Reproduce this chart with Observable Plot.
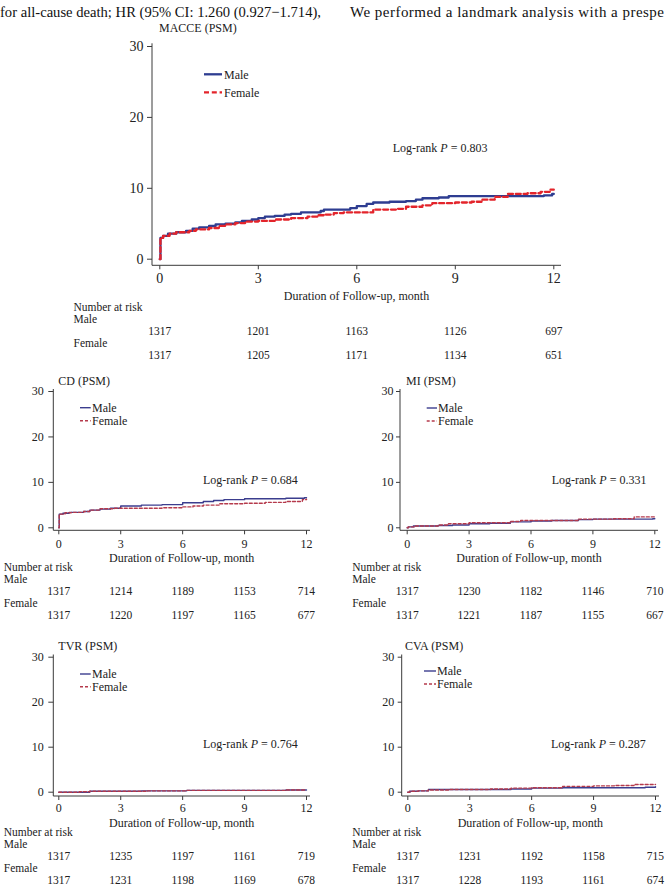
<!DOCTYPE html>
<html>
<head>
<meta charset="utf-8">
<script src="https://cdn.jsdelivr.net/npm/d3@7"></script>
<script src="https://cdn.jsdelivr.net/npm/@observablehq/plot@0.6"></script>
<style>
  html, body { margin: 0; padding: 0; background: #fff; }
  #page { position: relative; width: 667px; height: 891px; overflow: hidden; background: #fff;
          font-family: "Liberation Serif", "Times New Roman", serif; color: #222; }
  #page svg { position: absolute; }
</style>
</head>
<body>
<div id="page"></div>
<script>
// ---------------- DATA ----------------
const ticksX = [0, 3, 6, 9, 12];
const ticksY = [0, 10, 20, 30];
const groups = ["Male", "Female"];
const riskHeader = "Number at risk";
const xAxisLabel = "Duration of Follow-up, month";
const riskRowKeys = ["head", "Male", "MaleN", "Female", "FemaleN"];

const headerLeft = "for all-cause death; HR (95% CI: 1.260 (0.927\u22121.714),";
const headerRight = "We performed a landmark analysis with a prespe";

// cumulative incidence (%) step points [month, %]
const macceMale = [[0,0],[0.02,3.0],[0.1,3.3],[0.25,3.6],[0.5,3.8],[0.8,4.0],[1.0,4.3],[1.2,4.5],[1.5,4.7],[1.7,4.9],[2.0,5.0],[2.3,5.2],[2.5,5.4],[2.8,5.6],[3.0,5.8],[3.2,6.0],[3.5,6.1],[3.8,6.3],[4.0,6.4],[4.3,6.6],[4.9,6.8],[5.0,7.0],[5.8,7.2],[6.0,7.5],[6.3,7.8],[6.5,8.0],[7.0,8.1],[7.5,8.2],[7.8,8.4],[8.0,8.6],[8.5,8.7],[8.8,8.9],[11.7,9.0],[11.95,9.2],[12.0,9.2]];
const macceFemale = [[0,0],[0.02,3.0],[0.1,3.3],[0.3,3.6],[0.5,3.8],[0.9,4.0],[1.1,4.2],[1.5,4.4],[1.8,4.7],[2.0,4.9],[2.3,5.1],[2.6,5.3],[3.0,5.4],[3.5,5.6],[4.0,5.8],[4.5,6.0],[4.8,6.2],[5.0,6.3],[5.3,6.5],[5.6,6.6],[6.5,7.0],[7.2,7.1],[7.5,7.4],[8.0,7.6],[8.3,7.9],[9.0,8.0],[9.5,8.1],[9.8,8.4],[10.2,8.8],[10.6,9.2],[11.2,9.3],[11.6,9.5],[11.9,9.8],[12.0,9.8]];
const macceRiskMale = [1317, 1201, 1163, 1126, 697];
const macceRiskFemale = [1317, 1205, 1171, 1134, 651];
const macceP = "0.803";

const cdMale = [[0,0],[0.02,3.0],[0.2,3.2],[0.5,3.4],[1.2,3.6],[1.5,3.9],[2.0,4.1],[2.5,4.3],[3.0,4.8],[4.0,5.0],[5.0,5.1],[6.0,5.5],[7.0,5.8],[7.5,6.0],[8.0,6.2],[9.0,6.4],[11.0,6.5],[11.9,6.6],[12.0,6.6]];
const cdFemale = [[0,0],[0.02,3.0],[0.3,3.3],[0.6,3.4],[1.2,3.6],[1.5,3.9],[2.0,4.2],[2.7,4.3],[5.0,4.4],[6.0,4.6],[6.5,4.8],[7.0,5.0],[7.8,5.3],[9.0,5.4],[10.0,5.6],[11.0,5.8],[11.8,6.2],[12.0,6.3]];
const cdRiskMale = [1317, 1214, 1189, 1153, 714];
const cdRiskFemale = [1317, 1220, 1197, 1165, 677];
const cdP = "0.684";

const miMale = [[0,0],[0.05,0.2],[0.3,0.4],[1.5,0.5],[2.2,0.6],[3.0,0.9],[4.0,1.0],[5.0,1.3],[6.0,1.5],[7.0,1.6],[8.3,1.8],[9.0,1.9],[11.9,2.0],[12.0,2.0]];
const miFemale = [[0,0],[0.05,0.2],[0.4,0.4],[1.5,0.6],[2.0,0.9],[3.0,1.1],[5.0,1.4],[5.5,1.6],[8.3,1.9],[10.0,2.0],[11.0,2.4],[12.0,2.5]];
const miRiskMale = [1317, 1230, 1182, 1146, 710];
const miRiskFemale = [1317, 1221, 1187, 1155, 667];
const miP = "0.331";

const tvrMale = [[0,0],[1.5,0.2],[4.0,0.3],[6.2,0.4],[11.0,0.5],[12.0,0.5]];
const tvrFemale = [[0,0],[1.0,0.1],[1.5,0.2],[4.3,0.3],[6.2,0.4],[11.0,0.5],[12.0,0.5]];
const tvrRiskMale = [1317, 1235, 1197, 1161, 719];
const tvrRiskFemale = [1317, 1231, 1198, 1169, 678];
const tvrP = "0.764";

const cvaMale = [[0,0],[0.1,0.2],[0.5,0.3],[1.0,0.6],[5.0,0.7],[6.0,0.9],[7.5,1.0],[11.5,1.1],[12.0,1.2]];
const cvaFemale = [[0,0],[0.1,0.2],[0.5,0.3],[1.0,0.5],[2.0,0.6],[4.0,0.7],[5.0,0.9],[6.0,1.0],[7.5,1.3],[9.0,1.4],[10.0,1.5],[11.0,1.7],[12.0,1.7]];
const cvaRiskMale = [1317, 1231, 1192, 1158, 715];
const cvaRiskFemale = [1317, 1228, 1193, 1161, 674];
const cvaP = "0.287";

// ---------------- STYLE / LAYOUT ----------------
const FONT = '"Liberation Serif", "Times New Roman", serif';
const TEXT = "#222";
const AXIS = "#3a3a3a";
const RISK_FONT = "11.5px";
const styleBig = { male: "#2e3d91", female: "#e3242b", width: 2.3, dash: "5,2.8" };
const styleSmall = { male: "#3b3d8e", female: "#b53a4c", width: 1.4, dash: "3,2" };

const layoutMacce = { svgL: 60, svgR: 600, svgT: 10, svgB: 305, axisL: 152, axisR: 561, x0: 159.3, x12: 553.3,
  y0: 258.7, y30: 46, axisB: 265.3, axisT: 43.3, xTickSize: 4, xTickPad: 3, yTickSize: 5, yTickPad: 4, tickFont: 14,
  xLabelDy: 30.7, titleDx: 7, titleDy: -16, leg: [52, 70, 72, 31, 49], lr: [240.7, 104],
  riskTop: 306.7, riskBottom: 355, riskLabelX: 73 };
const layoutCD = { svgL: 0, svgR: 330, svgT: 365, svgB: 565, axisL: 53.3, axisR: 310, x0: 58.3, x12: 306,
  y0: 527.3, y30: 391, axisB: 530.3, axisT: 389, xTickSize: 4, xTickPad: 5, yTickSize: 5, yTickPad: 5, tickFont: 12,
  xLabelDy: 27, titleDx: 5, titleDy: -8, leg: [26.7, 37.4, 38.7, 18.7, 31.7], lr: [149.7, 91],
  riskTop: 567.3, riskBottom: 616, riskLabelX: 3.3 };
const layoutMI = { svgL: 345, svgR: 667, svgT: 365, svgB: 565, axisL: 400, axisR: 658, x0: 406.7, x12: 654.3,
  y0: 527.3, y30: 391, axisB: 530.3, axisT: 389, xTickSize: 4, xTickPad: 5, yTickSize: 4, yTickPad: 3, tickFont: 12,
  xLabelDy: 27, titleDx: 6, titleDy: -8, leg: [26.7, 37, 38, 19, 32], lr: [151.7, 91],
  riskTop: 567.3, riskBottom: 616, riskLabelX: 351.7 };
const layoutTVR = { svgL: 0, svgR: 330, svgT: 630, svgB: 830, axisL: 53.3, axisR: 310, x0: 58.3, x12: 306,
  y0: 791.7, y30: 656.7, axisB: 796, axisT: 654.5, xTickSize: 4, xTickPad: 3, yTickSize: 5, yTickPad: 5, tickFont: 12,
  xLabelDy: 26.3, titleDx: 5, titleDy: -8.8, leg: [26.7, 37.4, 38.7, 19.5, 32.2], lr: [149.7, 89.5],
  riskTop: 832.3, riskBottom: 881, riskLabelX: 3.3 };
const layoutCVA = { svgL: 345, svgR: 667, svgT: 630, svgB: 830, axisL: 401.7, axisR: 659, x0: 407.3, x12: 655,
  y0: 791.7, y30: 656.7, axisB: 796, axisT: 654.5, xTickSize: 4, xTickPad: 3, yTickSize: 4, yTickPad: 4, tickFont: 12,
  xLabelDy: 26.3, titleDx: 3.3, titleDy: -8.8, leg: [22.3, 34.3, 35.3, 16.5, 29.5], lr: [149.3, 89.5],
  riskTop: 832.3, riskBottom: 881, riskLabelX: 351.7 };

const panels = [
  { title: "MACCE (PSM)", male: macceMale, female: macceFemale, riskMale: macceRiskMale, riskFemale: macceRiskFemale, p: macceP, L: layoutMacce, st: styleBig },
  { title: "CD (PSM)", male: cdMale, female: cdFemale, riskMale: cdRiskMale, riskFemale: cdRiskFemale, p: cdP, L: layoutCD, st: styleSmall },
  { title: "MI (PSM)", male: miMale, female: miFemale, riskMale: miRiskMale, riskFemale: miRiskFemale, p: miP, L: layoutMI, st: styleSmall },
  { title: "TVR (PSM)", male: tvrMale, female: tvrFemale, riskMale: tvrRiskMale, riskFemale: tvrRiskFemale, p: tvrP, L: layoutTVR, st: styleSmall },
  { title: "CVA (PSM)", male: cvaMale, female: cvaFemale, riskMale: cvaRiskMale, riskFemale: cvaRiskFemale, p: cvaP, L: layoutCVA, st: styleSmall }
];

// ---------------- RENDER ----------------
const page = document.getElementById("page");

function geom(L) {
  const ppx = (L.x12 - L.x0) / 12;
  const ppy = (L.y0 - L.y30) / 30;
  return {
    xDomain: [(L.axisL - L.x0) / ppx, 12 + (L.axisR - L.x12) / ppx],
    yDomain: [-(L.axisB - L.y0) / ppy, 30 + (L.y30 - L.axisT) / ppy],
    width: L.svgR - L.svgL,
    marginLeft: L.axisL - L.svgL,
    marginRight: L.svgR - L.axisR
  };
}

function decorations(pn) {
  const L = pn.L, st = pn.st;
  return (index, scales, values, dims) => {
    const fl = dims.marginLeft, fr = dims.width - dims.marginRight;
    const ft = dims.marginTop, fb = dims.height - dims.marginBottom;
    const g = d3.create("svg:g").attr("font-family", FONT).attr("fill", TEXT)
      .attr("font-size", 12).attr("text-anchor", "start");
    g.append("line").attr("x1", fl).attr("x2", fl).attr("y1", ft).attr("y2", fb).attr("stroke", AXIS);
    g.append("line").attr("x1", fl).attr("x2", fr).attr("y1", fb).attr("y2", fb).attr("stroke", AXIS);
    g.append("text").attr("x", fl + L.titleDx).attr("y", ft + L.titleDy).attr("dy", "0.35em").text(pn.title);
    g.append("text").attr("x", (fl + fr) / 2).attr("y", fb + L.xLabelDy).attr("dy", "0.35em")
      .attr("text-anchor", "middle").text(xAxisLabel);
    const [lx1, lx2, tx, ly1, ly2] = L.leg;
    groups.forEach((grp, i) => {
      const yy = ft + (i === 0 ? ly1 : ly2);
      const ln = g.append("line").attr("x1", fl + lx1).attr("x2", fl + lx2).attr("y1", yy).attr("y2", yy)
        .attr("stroke", i === 0 ? st.male : st.female).attr("stroke-width", st.width);
      if (i === 1) ln.attr("stroke-dasharray", st.dash);
      g.append("text").attr("x", fl + tx).attr("y", yy).attr("dy", "0.35em").text(grp);
    });
    const t = g.append("text").attr("x", fl + L.lr[0]).attr("y", ft + L.lr[1]).attr("dy", "0.35em");
    t.append("tspan").text("Log-rank ");
    t.append("tspan").attr("font-style", "italic").text("P");
    t.append("tspan").text(" = " + pn.p);
    return g.node();
  };
}

function chart(pn) {
  const L = pn.L, st = pn.st, g = geom(L);
  const svg = Plot.plot({
    width: g.width, height: L.svgB - L.svgT,
    marginLeft: g.marginLeft, marginRight: g.marginRight,
    marginTop: L.axisT - L.svgT, marginBottom: L.svgB - L.axisB,
    x: { domain: g.xDomain },
    y: { domain: g.yDomain },
    style: { fontFamily: FONT, fontSize: "12px", color: TEXT, background: "transparent", overflow: "visible" },
    marks: [
      Plot.axisX({ ticks: ticksX, tickSize: L.xTickSize, tickPadding: L.xTickPad, fontSize: L.tickFont, label: null, stroke: AXIS }),
      Plot.axisY({ ticks: ticksY, tickSize: L.yTickSize, tickPadding: L.yTickPad, fontSize: L.tickFont, label: null, stroke: AXIS }),
      decorations(pn),
      Plot.line(pn.male.map(([t, v]) => ({ t, v })), { x: "t", y: "v", curve: "step-after", stroke: st.male, strokeWidth: st.width }),
      Plot.line(pn.female.map(([t, v]) => ({ t, v })), { x: "t", y: "v", curve: "step-after", stroke: st.female, strokeWidth: st.width, strokeDasharray: st.dash })
    ]
  });
  svg.style.left = L.svgL + "px";
  svg.style.top = L.svgT + "px";
  page.appendChild(svg);
}

function riskTable(pn) {
  const L = pn.L, g = geom(L);
  const nums = [];
  ticksX.forEach((t, i) => {
    nums.push({ x: t, row: "MaleN", text: String(pn.riskMale[i]) });
    nums.push({ x: t, row: "FemaleN", text: String(pn.riskFemale[i]) });
  });
  const labels = [{ row: "head", text: riskHeader }, { row: "Male", text: groups[0] }, { row: "Female", text: groups[1] }];
  const pad = 8;
  const svg = Plot.plot({
    width: g.width, height: (L.riskBottom - L.riskTop) + 2 * pad,
    marginLeft: g.marginLeft, marginRight: g.marginRight, marginTop: pad, marginBottom: pad,
    x: { domain: g.xDomain, axis: null },
    y: { type: "point", domain: riskRowKeys, padding: 0, axis: null },
    style: { fontFamily: FONT, fontSize: RISK_FONT, color: TEXT, background: "transparent", overflow: "visible" },
    marks: [
      Plot.text(nums, { x: "x", y: "row", text: "text", fill: TEXT, fontSize: RISK_FONT }),
      Plot.text(labels, { y: "row", text: "text", frameAnchor: "left", textAnchor: "start", dx: L.riskLabelX - L.axisL, fill: TEXT, fontSize: RISK_FONT })
    ]
  });
  svg.style.left = L.svgL + "px";
  svg.style.top = (L.riskTop - pad) + "px";
  page.appendChild(svg);
}

// header paragraph text
const hdr = d3.create("svg").attr("width", 667).attr("height", 26).style("left", "0px").style("top", "0px")
  .attr("font-family", FONT).attr("font-size", 15).attr("fill", "#111");
hdr.append("text").attr("x", 0).attr("y", 17).attr("textLength", 321).attr("lengthAdjust", "spacingAndGlyphs").text(headerLeft);
hdr.append("text").attr("x", 350).attr("y", 17).attr("textLength", 314).attr("lengthAdjust", "spacing").text(headerRight);
page.appendChild(hdr.node());

panels.forEach(pn => { chart(pn); riskTable(pn); });
</script>
</body>
</html>
